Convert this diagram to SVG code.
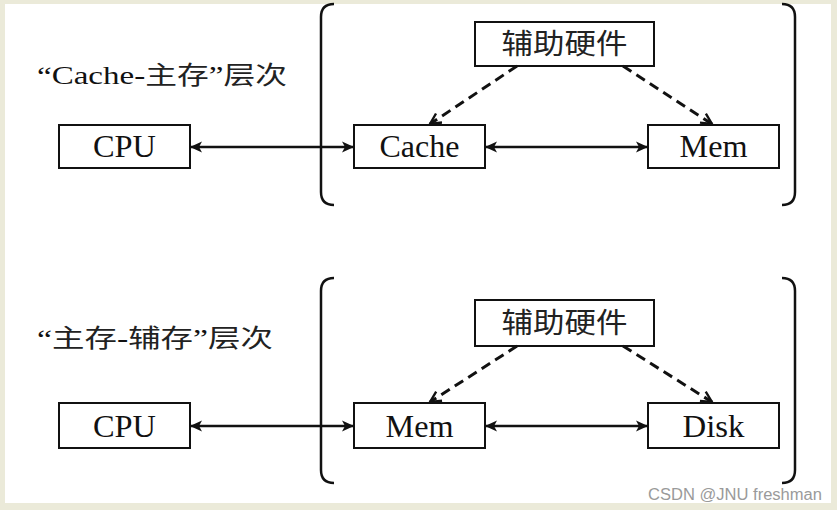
<svg xmlns="http://www.w3.org/2000/svg" width="837" height="510" viewBox="0 0 837 510">
<style>
.box{fill:#fff;stroke:#111;stroke-width:2}
.lat{font-family:"Liberation Serif","Times New Roman",serif;font-size:31px;fill:#111}
.cjk{font-family:"Noto Sans CJK SC","Noto Sans",sans-serif;fill:#222}
.title{font-size:25px}
.solid{stroke:#111;stroke-width:2.5;fill:none}
.dash{stroke:#111;stroke-width:3;fill:none;stroke-dasharray:10 6}
.brk{stroke:#111;stroke-width:2.5;fill:none}
</style>
<defs>
<marker id="ah" viewBox="0 0 12 12" refX="11" refY="6" markerWidth="12" markerHeight="12" markerUnits="userSpaceOnUse" orient="auto-start-reverse">
<path d="M0,0.5 L12,6 L0,11.5 L3,6 z" fill="#111"/>
</marker>
<marker id="oh" viewBox="0 0 12 12" refX="11" refY="6" markerWidth="13" markerHeight="13" markerUnits="userSpaceOnUse" orient="auto">
<path d="M1,1 L11,6 L1,11" fill="none" stroke="#111" stroke-width="2.2"/>
</marker>
</defs>
<rect x="0" y="0" width="837" height="510" fill="#ebead9"/>
<rect x="5" y="4" width="826" height="499" fill="#fff"/>

<!-- Top section -->
<text x="37" y="84" class="cjk title" textLength="250" lengthAdjust="spacingAndGlyphs"><tspan class="lat" style="font-size:26px">“Cache-</tspan>主存<tspan class="lat" style="font-size:26px">”</tspan>层次</text>
<path class="brk" d="M334,4 Q321,4 321,17 L321,192 Q321,205 334,205"/>
<path class="brk" d="M782,4 Q795,4 795,17 L795,192 Q795,205 782,205"/>

<g id="cpu1"><rect class="box" x="59" y="125" width="131" height="43"/><text class="lat" x="124.5" y="157" text-anchor="middle" textLength="63" lengthAdjust="spacingAndGlyphs">CPU</text></g>
<g id="cache1"><rect class="box" x="354" y="125" width="131" height="43"/><text class="lat" x="419.5" y="157" text-anchor="middle" textLength="80" lengthAdjust="spacingAndGlyphs">Cache</text></g>
<g id="mem1"><rect class="box" x="648" y="125" width="131" height="43"/><text class="lat" x="713.5" y="157" text-anchor="middle" textLength="68" lengthAdjust="spacingAndGlyphs">Mem</text></g>
<g id="hw1"><rect class="box" x="475" y="22" width="179" height="44"/><text class="cjk" x="564.5" y="54" font-size="28" text-anchor="middle" textLength="126" lengthAdjust="spacingAndGlyphs">辅助硬件</text></g>

<!-- Bottom section -->
<text x="37" y="347" class="cjk title" textLength="236" lengthAdjust="spacingAndGlyphs"><tspan class="lat" style="font-size:26px">“</tspan>主存<tspan class="lat" style="font-size:26px">-</tspan>辅存<tspan class="lat" style="font-size:26px">”</tspan>层次</text>
<path class="brk" d="M334,278 Q321,278 321,291 L321,470 Q321,483 334,483"/>
<path class="brk" d="M782,278 Q795,278 795,291 L795,470 Q795,483 782,483"/>

<g id="cpu2"><rect class="box" x="59" y="403" width="131" height="45"/><text class="lat" x="124.5" y="437" text-anchor="middle" textLength="63" lengthAdjust="spacingAndGlyphs">CPU</text></g>
<g id="mem2"><rect class="box" x="354" y="403" width="131" height="45"/><text class="lat" x="419.5" y="437" text-anchor="middle" textLength="68" lengthAdjust="spacingAndGlyphs">Mem</text></g>
<g id="disk2"><rect class="box" x="648" y="403" width="131" height="45"/><text class="lat" x="713.5" y="437" text-anchor="middle" textLength="62" lengthAdjust="spacingAndGlyphs">Disk</text></g>
<g id="hw2"><rect class="box" x="475" y="300" width="179" height="46"/><text class="cjk" x="564.5" y="333" font-size="28" text-anchor="middle" textLength="126" lengthAdjust="spacingAndGlyphs">辅助硬件</text></g>

<g id="connectors">
<line class="solid" x1="191" y1="147" x2="353" y2="147" marker-start="url(#ah)" marker-end="url(#ah)"/>
<line class="solid" x1="486" y1="147" x2="647" y2="147" marker-start="url(#ah)" marker-end="url(#ah)"/>
<line class="dash" x1="517" y1="66" x2="430" y2="124" marker-end="url(#oh)"/>
<line class="dash" x1="623" y1="66" x2="712" y2="124" marker-end="url(#oh)"/>
<line class="solid" x1="191" y1="426" x2="353" y2="426" marker-start="url(#ah)" marker-end="url(#ah)"/>
<line class="solid" x1="486" y1="426" x2="647" y2="426" marker-start="url(#ah)" marker-end="url(#ah)"/>
<line class="dash" x1="517" y1="346" x2="430" y2="402" marker-end="url(#oh)"/>
<line class="dash" x1="623" y1="346" x2="712" y2="402" marker-end="url(#oh)"/>
</g>

<text x="648" y="500" font-family="Liberation Sans, Arial, sans-serif" font-size="16" fill="#9a9a9a" textLength="174" lengthAdjust="spacingAndGlyphs">CSDN @JNU freshman</text>
</svg>
